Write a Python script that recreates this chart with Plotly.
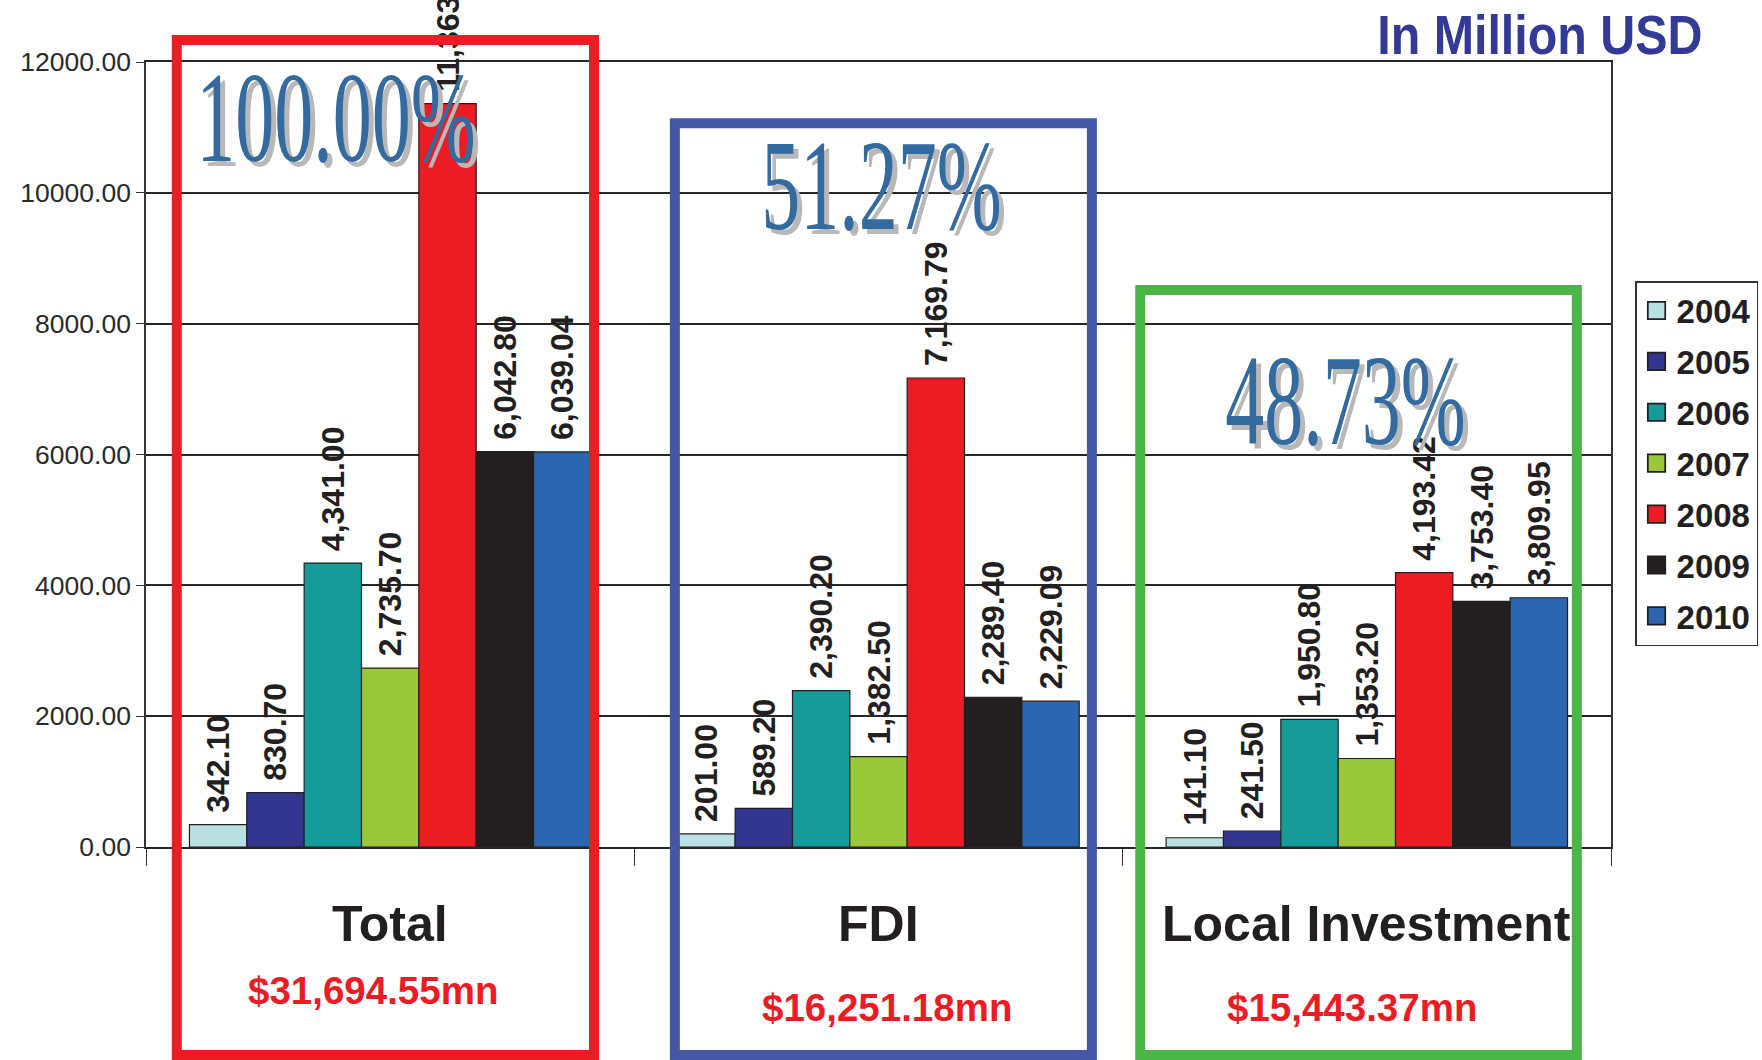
import plotly.graph_objects as go

# ---------------- data ----------------
categories = ["Total", "FDI", "Local Investment"]
years = ["2004", "2005", "2006", "2007", "2008", "2009", "2010"]
v2004 = [342.10, 201.00, 141.10]
v2005 = [830.70, 589.20, 241.50]
v2006 = [4341.00, 2390.20, 1950.80]
v2007 = [2735.70, 1382.50, 1353.20]
v2008 = [11363.21, 7169.79, 4193.42]
v2009 = [6042.80, 2289.40, 3753.40]
v2010 = [6039.04, 2229.09, 3809.95]
series = [v2004, v2005, v2006, v2007, v2008, v2009, v2010]
totals_text = ["$31,694.55mn", "$16,251.18mn", "$15,443.37mn"]
share_text = ["100.00%", "51.27%", "48.73%"]
unit_title = "In Million USD"

# ---------------- style ----------------
colors = ["#b9e1e4", "#33368f", "#169a9a", "#9bc83b", "#ed1c24", "#231f20", "#2c66b0"]
box_colors = ["#ed1c24", "#4656a6", "#4bb648"]
SANS = "Liberation Sans, Arial, sans-serif"
SERIF = "Liberation Serif, Times New Roman, serif"

fig = go.Figure()
for yr, vals, col in zip(years, series, colors):
    fig.add_trace(go.Bar(
        name=yr, x=categories, y=vals,
        marker=dict(color=col, line=dict(color="#231f20", width=1.2)),
        texttemplate="\u00a0%{y:,.2f}", textposition="outside", textangle=-90,
        textfont=dict(family=SANS, size=32, color="#231f20", weight="bold"),
        constraintext="none", cliponaxis=False, legendgroup=yr,
    ))

fig.update_layout(
    width=1762, height=1060,
    margin=dict(l=146, r=151, t=62, b=213, autoexpand=False),
    paper_bgcolor="white", plot_bgcolor="white",
    barmode="group", bargap=0.178, bargroupgap=0,
    showlegend=True,
    legend=dict(
        x=1.0164, y=0.721, xanchor="left", yanchor="top",
        bordercolor="#333333", borderwidth=1.5, bgcolor="white",
        font=dict(family=SANS, size=33, color="#231f20", weight="bold"),
        traceorder="grouped", tracegroupgap=5,
    ),
)
fig.update_yaxes(
    range=[0, 12000], dtick=2000, tickformat=".2f",
    showgrid=True, gridcolor="#262626", gridwidth=1.6,
    showline=True, linecolor="#333333", linewidth=1.6, mirror=True,
    ticks="outside", ticklen=8, tickcolor="#333333",
    tickfont=dict(family=SANS, size=26.5, color="#2a2a2a"),
    zeroline=False,
)
fig.update_xaxes(
    type="category", showticklabels=False, showgrid=False,
    showline=True, linecolor="#262626", linewidth=1.6, mirror=True,
    ticks="outside", tickson="boundaries", ticklen=17, tickcolor="#333333",
)

# framing boxes (category-relative x, paper y)
box_x = [(-0.437, 0.4175), (-0.417, 0.437), (-0.464, 0.43)]
box_top = [1.028, 0.922, 0.7096]
for i, (c, (a, b), top) in enumerate(zip(box_colors, box_x, box_top)):
    fig.add_shape(type="rect", xref="x", yref="paper",
                  x0=i + a, x1=i + b, y0=-0.265, y1=top,
                  line=dict(color=c, width=10), layer="above")

# category labels and totals
sub_dx = [-0.035, 0.018, -0.03]
sub_y = [-0.183, -0.204, -0.204]
for i, cat in enumerate(categories):
    fig.add_annotation(x=i, y=-0.098, xref="x", yref="paper", text=cat,
                       showarrow=False, xanchor="center", yanchor="middle",
                       font=dict(family=SANS, size=50, color="#231f20", weight="bold"))
    fig.add_annotation(x=i + sub_dx[i], y=sub_y[i], xref="x", yref="paper",
                       text=totals_text[i], showarrow=False,
                       xanchor="center", yanchor="middle",
                       font=dict(family=SANS, size=38.5, color="#ed1c24", weight="bold"))

# big share percentages with drop shadow
share_pos = [(0.130, 0.930), (0.502, 0.843), (0.819, 0.570)]
for txt, (px, py) in zip(share_text, share_pos):
    fig.add_annotation(x=px, y=py, xref="paper", yref="paper", text=txt,
                       showarrow=False, xanchor="center", yanchor="middle",
                       xshift=5, yshift=-5,
                       font=dict(family=SERIF, size=130, color="#b8b8b8"))
    fig.add_annotation(x=px, y=py, xref="paper", yref="paper", text=txt,
                       showarrow=False, xanchor="center", yanchor="middle",
                       font=dict(family=SERIF, size=130, color="#336aa0"))

fig.add_annotation(x=0.9515, y=1.034, xref="paper", yref="paper", text=unit_title,
                   showarrow=False, xanchor="center", yanchor="middle",
                   font=dict(family=SANS, size=55, color="#333a96", weight="bold"))

post = r"""
(function(){
  var gd = document.getElementById('{plot_id}');
  gd.querySelectorAll('g.annotation').forEach(function(g){
    var t = g.querySelector('text.annotation-text');
    if(!t) return;
    var s = t.textContent, k = null;
    if (/%$/.test(s)) k = 0.6;
    else if (s === 'In Million USD') k = 0.88;
    if (k === null) return;
    var bb = t.getBBox();
    var cx = bb.x + bb.width/2;
    t.setAttribute('transform', 'translate(' + cx + ' 0) scale(' + k + ' 1) translate(' + (-cx) + ' 0)');
  });
  gd.querySelectorAll('.legend .legendpoints path').forEach(function(p){
    var tr = p.getAttribute('transform') || '';
    p.setAttribute('transform', tr + ' scale(1.45)');
  });
})();
"""

fig.write_html("out.html", post_script=post)
